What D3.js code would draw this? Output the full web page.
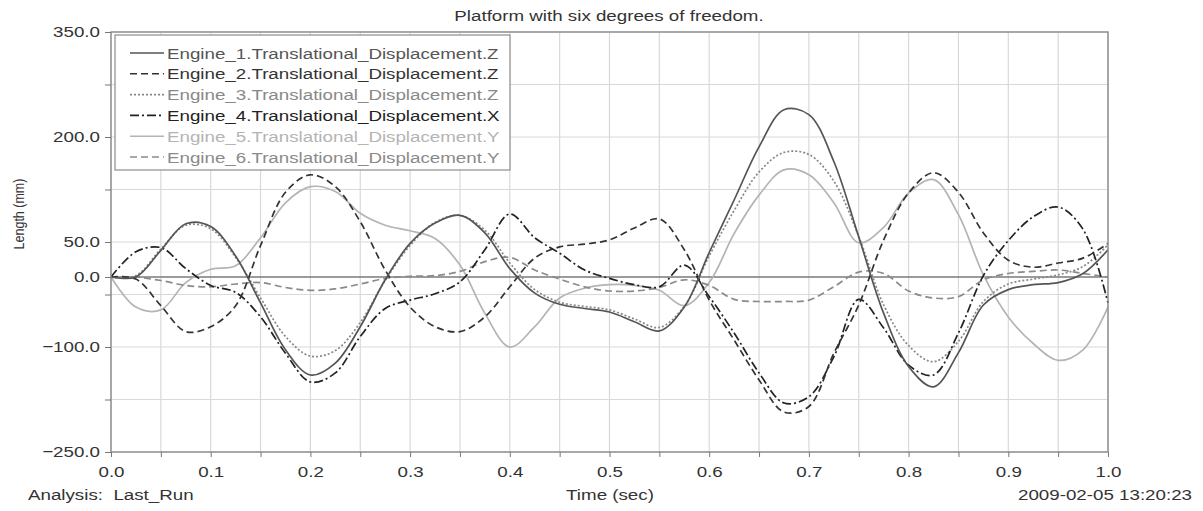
<!DOCTYPE html>
<html><head><meta charset="utf-8">
<script src="https://cdn.jsdelivr.net/npm/d3@7"></script>
<style>
body{margin:0;background:#fff}
text{font-family:"Liberation Sans",Arial,sans-serif}
</style>
</head><body><svg id="chart" width="1203" height="511"></svg>
<script>
// ---- data ----
const time = [0,0.025,0.05,0.075,0.1,0.125,0.15,0.175,0.2,0.225,0.25,0.275,0.3,0.325,0.35,0.375,0.4,0.425,0.45,0.475,0.5,0.525,0.55,0.575,0.6,0.625,0.65,0.675,0.7,0.725,0.75,0.775,0.8,0.825,0.85,0.875,0.9,0.925,0.95,0.975,1.0];
const engine1Z = [0,0,38,76,72,30,-37,-104,-140,-123,-71,-4,48,77,88,63,12,-23,-39,-45,-50,-64,-77,-43,35,110,186,239,232,165,57,-52,-128,-157,-108,-40,-18,-11,-8,5,39];
const engine2Z = [0,-3,-41,-78,-71,-41,45,121,146,129,79,10,-43,-71,-78,-57,-14,27,43,47,53,70,83,39,-33,-90,-147,-193,-185,-109,-40,53,120,149,121,63,24,14,20,27,48];
const engine3Z = [0,2,40,74,69,28,-30,-85,-113,-105,-65,-5,45,78,88,67,20,-18,-36,-42,-47,-60,-72,-42,30,95,150,178,175,137,58,-40,-98,-121,-92,-35,-10,-3,3,15,46];
const engine4X = [0,36,42,12,-12,-22,-57,-109,-150,-137,-85,-45,-33,-24,-7,39,90,56,34,10,-2,-11,-14,17,-28,-80,-137,-180,-171,-114,-32,-73,-126,-140,-80,2,52,86,100,68,-37];
const engine5Y = [0,-43,-47,-8,11,16,56,106,129,122,91,74,66,55,17,-52,-100,-71,-30,-16,-11,-12,-19,-41,-8,62,117,153,146,106,49,71,120,139,89,3,-57,-95,-119,-104,-43];
const engine6Y = [0,0,-5,-12,-14,-10,-8,-15,-19,-17,-10,-2,1,2,8,22,28,10,-3,-14,-20,-20,-15,-4,-12,-32,-35,-35,-33,-14,7,5,-20,-30,-28,-4,5,8,10,5,0];

const seriesNames = ["Engine_1.Translational_Displacement.Z","Engine_2.Translational_Displacement.Z","Engine_3.Translational_Displacement.Z","Engine_4.Translational_Displacement.X","Engine_5.Translational_Displacement.Y","Engine_6.Translational_Displacement.Y"];
const seriesValues = [engine1Z, engine2Z, engine3Z, engine4X, engine5Y, engine6Y];

const xTickValues = [0,0.05,0.1,0.15,0.2,0.25,0.3,0.35,0.4,0.45,0.5,0.55,0.6,0.65,0.7,0.75,0.8,0.85,0.9,0.95,1.0];
const xTickLabels = [0,0.1,0.2,0.3,0.4,0.5,0.6,0.7,0.8,0.9,1.0];
const yGridValues = [-250,-175,-100,-25,50,125,200,275,350];
const yTickLabels = [-250,-100,0,50,200,350];

const titleText = "Platform with six degrees of freedom.";
const xAxisTitle = "Time (sec)";
const yAxisTitle = "Length (mm)";
const footLeft = "Analysis:  Last_Run";
const footRight = "2009-02-05 13:20:23";

// ---- styles ----
const styles = [
  {color:"#555", dash:null, w:1.7},
  {color:"#333", dash:"7,4", w:1.7},
  {color:"#888", dash:"2,2", w:1.7},
  {color:"#222", dash:"9,3,2,3", w:1.7},
  {color:"#b4b4b4", dash:null, w:1.7},
  {color:"#8a8a8a", dash:"7,4", w:1.7}
];
const FS = 15.5, SX = 1.21;

const svg = d3.select("#chart");
svg.append("rect").attr("width",1203).attr("height",511).attr("fill","#fff");

const L = 111, R = 1108, T = 32, B = 452;
const x = d3.scaleLinear().domain([0,1]).range([L,R]);
const y = d3.scaleLinear().domain([-250,350]).range([B,T]);

function stretchText(sel){
  sel.each(function(){
    const t = d3.select(this);
    const tx = +t.attr("x") || 0;
    const ty = +t.attr("y") || 0;
    t.attr("x",0).attr("y",0).attr("transform",`translate(${tx},${ty}) scale(${SX},1)`);
  });
}
function addText(g, tx, ty, str, anchor, fill, size){
  const t = g.append("text").attr("x",tx).attr("y",ty).attr("text-anchor",anchor)
    .attr("fill",fill).attr("font-size",size||FS).style("white-space","pre").text(str);
  stretchText(t);
  return t;
}

// grid
const grid = svg.append("g");
grid.selectAll("line.gx").data(xTickValues).join("line")
  .attr("x1",d=>x(d)).attr("x2",d=>x(d)).attr("y1",T).attr("y2",B)
  .attr("stroke","#d9d9d9").attr("stroke-width",1.2);
grid.selectAll("line.gy").data(yGridValues).join("line")
  .attr("x1",L).attr("x2",R).attr("y1",d=>y(d)).attr("y2",d=>y(d))
  .attr("stroke","#d9d9d9").attr("stroke-width",1.2);
// zero line
svg.append("line").attr("x1",L).attr("x2",R).attr("y1",y(0)).attr("y2",y(0))
  .attr("stroke","#7a7a7a").attr("stroke-width",1.4);

// series
const line = d3.line().x((d,i)=>x(time[i])).y(d=>y(d)).curve(d3.curveCatmullRom.alpha(0.5));
const order = [4,5,2,3,1,0];
order.forEach(k=>{
  svg.append("path").datum(seriesValues[k]).attr("d",line)
    .attr("fill","none").attr("stroke",styles[k].color).attr("stroke-width",styles[k].w)
    .attr("stroke-dasharray",styles[k].dash).attr("stroke-linejoin","round");
});

// frame
svg.append("rect").attr("x",L).attr("y",T).attr("width",R-L).attr("height",B-T)
  .attr("fill","none").attr("stroke","#8c8c8c").attr("stroke-width",1.4);

// axes
const yAxis = d3.axisLeft(y).tickValues(yGridValues.concat([0]))
  .tickFormat(d=> yTickLabels.includes(d) ? d3.format(".1f")(d) : "")
  .tickSize(6).tickPadding(5);
const gy = svg.append("g").attr("transform",`translate(${L},0)`).call(yAxis);
gy.select(".domain").remove();
gy.selectAll(".tick line").attr("stroke","#777");
gy.selectAll(".tick text").attr("font-size",FS).attr("fill","#333").attr("font-family",null);
stretchText(gy.selectAll(".tick text"));

const xAxis = d3.axisBottom(x).tickValues(xTickValues)
  .tickFormat(d=> xTickLabels.some(v=>Math.abs(v-d)<1e-9) ? d3.format(".1f")(d) : "")
  .tickSize(5).tickPadding(9);
const gx = svg.append("g").attr("transform",`translate(0,${B})`).call(xAxis);
gx.select(".domain").remove();
gx.selectAll(".tick line").attr("stroke","#777");
gx.selectAll(".tick text").attr("font-size",FS).attr("fill","#333").attr("font-family",null);
stretchText(gx.selectAll(".tick text"));

// texts
const tg = svg.append("g");
addText(tg, 609, 21, titleText, "middle", "#333");
addText(tg, 610, 500, xAxisTitle, "middle", "#333");
addText(tg, 28, 500, footLeft, "start", "#333");
addText(tg, 1192, 500, footRight, "end", "#333");
svg.append("text").attr("transform",`translate(24,214) rotate(-90) scale(1,${SX})`).attr("text-anchor","middle")
  .attr("font-size",12.5).attr("fill","#333").text(yAxisTitle);

// legend
const lg = svg.append("g");
lg.append("rect").attr("x",115).attr("y",35).attr("width",395).attr("height",135)
  .attr("fill","#fff").attr("stroke","#8c8c8c").attr("stroke-width",1.2);
seriesNames.forEach((name,i)=>{
  const cy = 53 + i*20.8;
  lg.append("line").attr("x1",130).attr("x2",164).attr("y1",cy).attr("y2",cy)
    .attr("stroke",styles[i].color).attr("stroke-width",1.6).attr("stroke-dasharray",styles[i].dash);
  addText(lg, 167, cy+5.5, name, "start", styles[i].color);
});
</script>
</body></html>
